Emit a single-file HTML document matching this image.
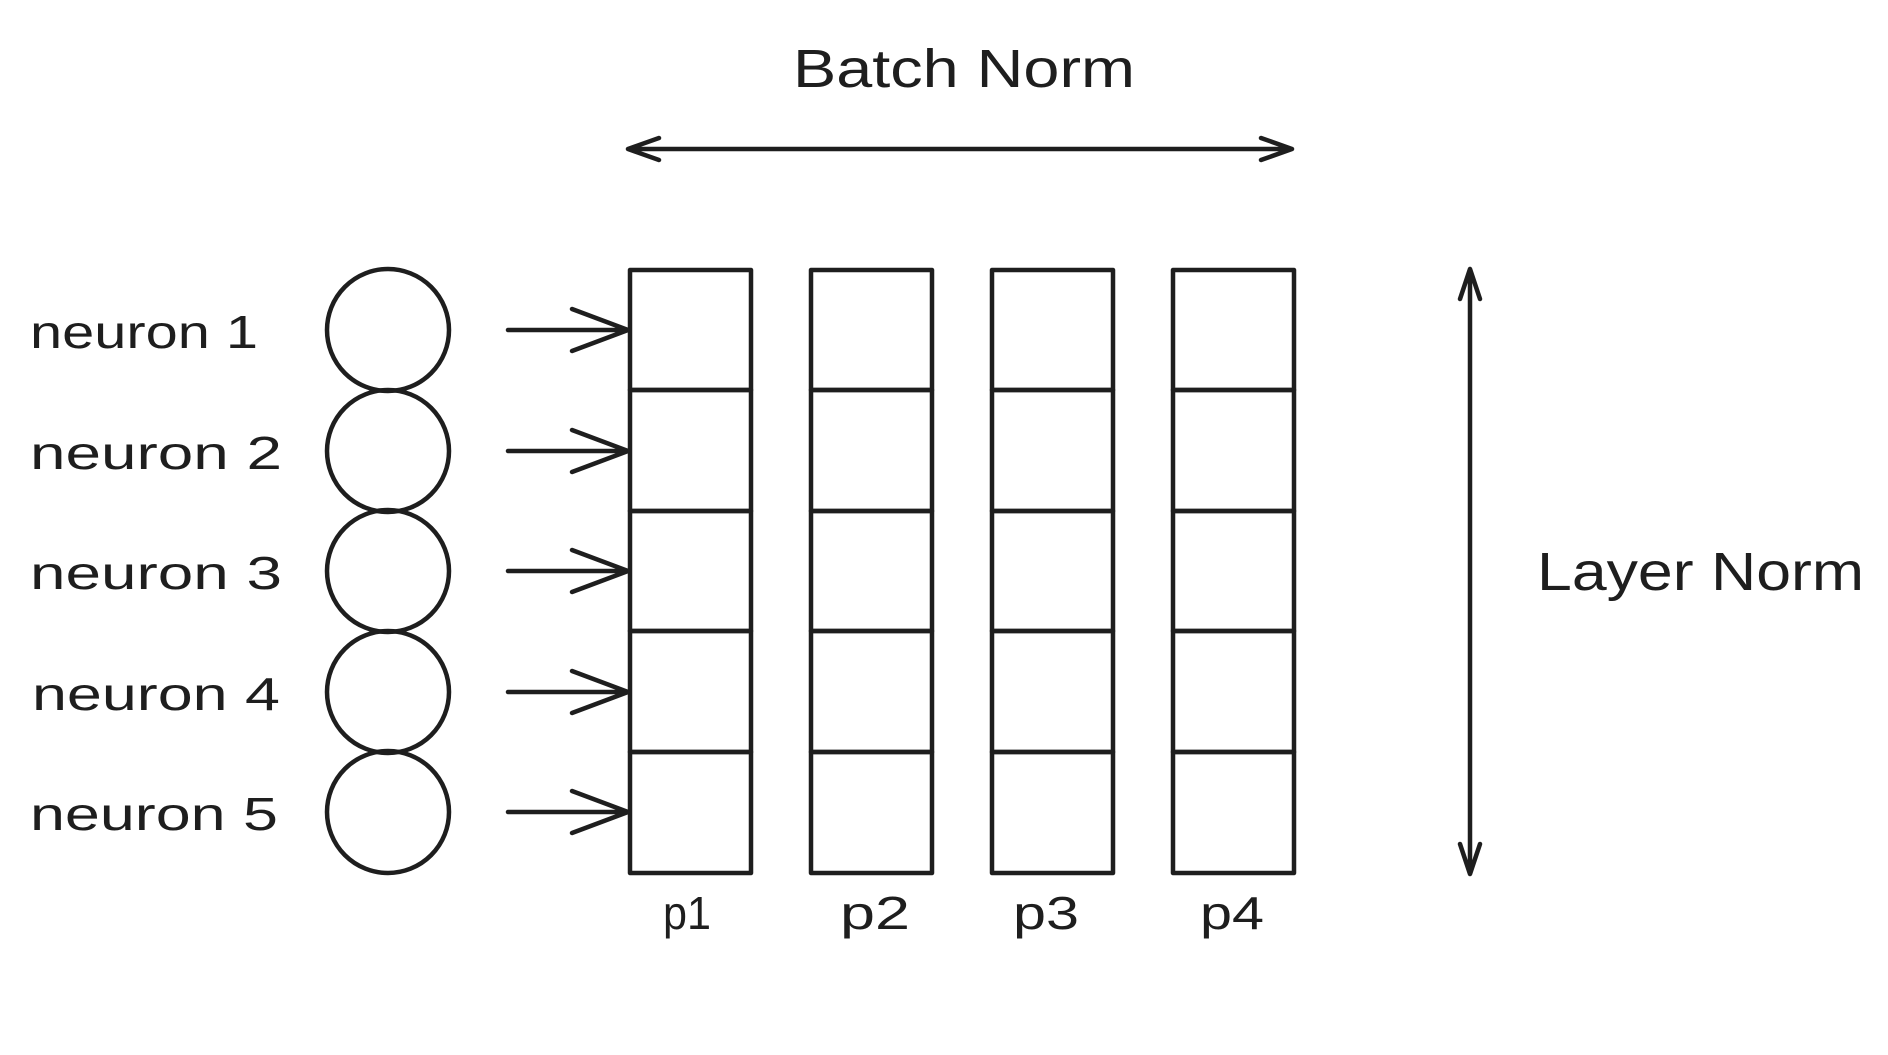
<!DOCTYPE html>
<html><head><meta charset="utf-8"><style>html,body{margin:0;padding:0;background:#fff}</style></head>
<body>
<svg width="1888" height="1050" viewBox="0 0 1888 1050" xmlns="http://www.w3.org/2000/svg">
<g transform="translate(-3,-1)">
<g fill="none" stroke="#1e1e1e" stroke-width="4.5" stroke-linecap="round" stroke-linejoin="round">
<g id="col">
<rect x="633" y="271" width="121" height="120"/>
<rect x="633" y="391" width="121" height="121"/>
<rect x="633" y="512" width="121" height="120"/>
<rect x="633" y="632" width="121" height="121"/>
<rect x="633" y="753" width="121" height="121"/>
</g>
<use href="#col" x="181"/>
<use href="#col" x="362"/>
<use href="#col" x="543"/>
<circle cx="391" cy="331" r="61"/>
<circle cx="391" cy="452" r="61"/>
<circle cx="391" cy="572" r="61"/>
<circle cx="391" cy="693" r="61"/>
<circle cx="391" cy="813" r="61"/>
<g id="ar"><path d="M511 331 L631 331 M575 310 L631 331 L575 352"/></g>
<use href="#ar" y="121"/>
<use href="#ar" y="241"/>
<use href="#ar" y="362"/>
<use href="#ar" y="482"/>
<path d="M631 150 L1295 150 M662 139 L631 150 L662 161 M1264 139 L1295 150 L1264 161"/>
<path d="M1473 270 L1473 875 M1463 300 L1473 270 L1483 300 M1463 845 L1473 875 L1483 845"/>
</g>
</g>
<g font-family="Liberation Sans, sans-serif" fill="#1e1e1e" font-size="46">
<text x="30" y="348" textLength="228" lengthAdjust="spacingAndGlyphs">neuron 1</text>
<text x="30" y="469" textLength="252" lengthAdjust="spacingAndGlyphs">neuron 2</text>
<text x="30" y="589" textLength="252" lengthAdjust="spacingAndGlyphs">neuron 3</text>
<text x="32" y="710" textLength="248" lengthAdjust="spacingAndGlyphs">neuron 4</text>
<text x="30" y="830" textLength="248" lengthAdjust="spacingAndGlyphs">neuron 5</text>
<text x="793" y="87" font-size="54" textLength="342" lengthAdjust="spacingAndGlyphs">Batch Norm</text>
<text x="1537" y="590" font-size="54" textLength="327" lengthAdjust="spacingAndGlyphs">Layer Norm</text>
<text x="663" y="929" textLength="48" lengthAdjust="spacingAndGlyphs">p1</text>
<text x="840" y="929" textLength="70" lengthAdjust="spacingAndGlyphs">p2</text>
<text x="1013" y="929" textLength="66" lengthAdjust="spacingAndGlyphs">p3</text>
<text x="1200" y="929" textLength="64" lengthAdjust="spacingAndGlyphs">p4</text>
</g>
</svg>
</body></html>
